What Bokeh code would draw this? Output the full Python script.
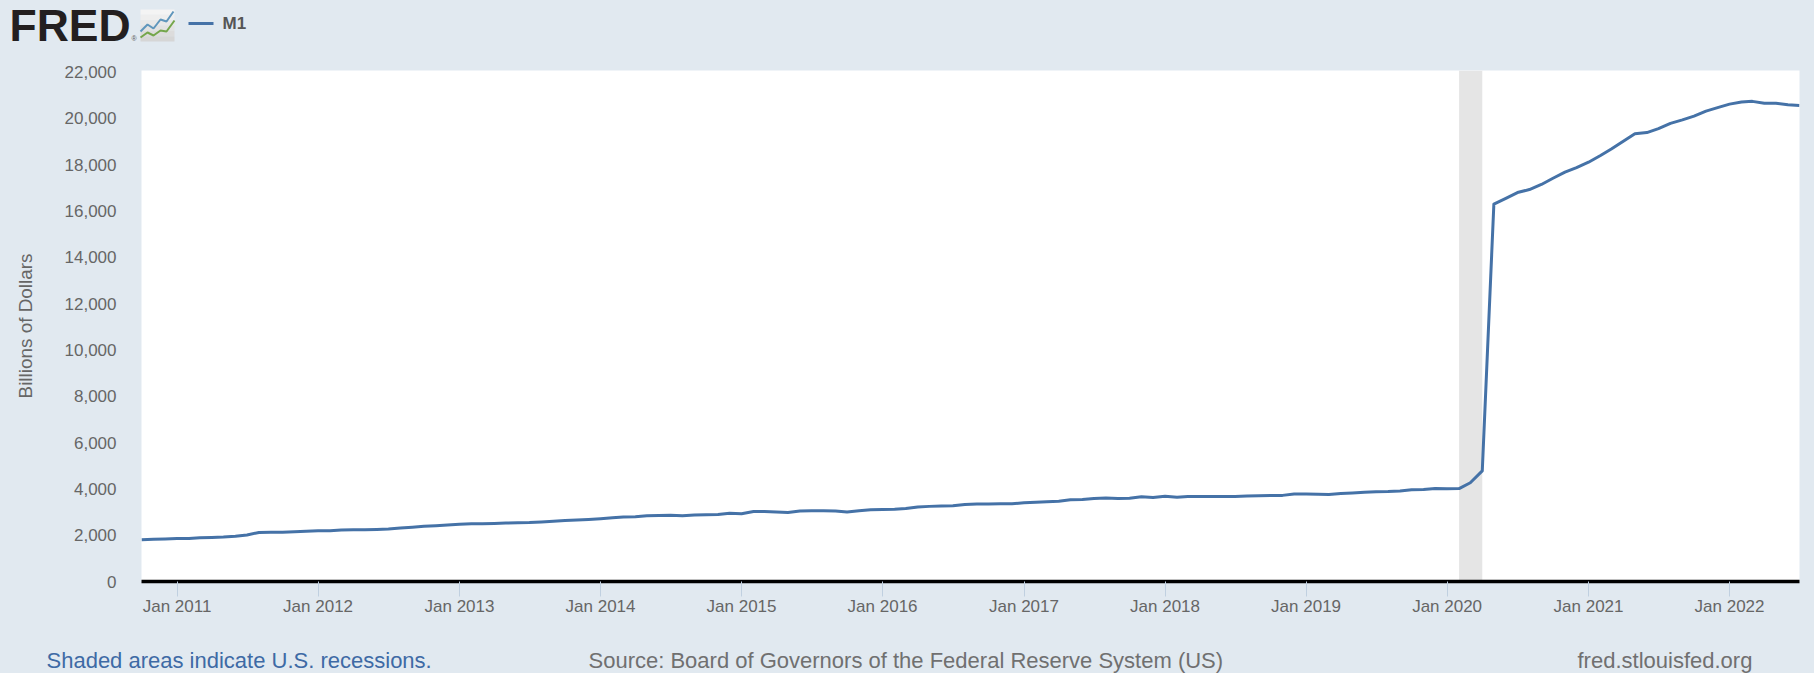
import pandas as pd
from bokeh.plotting import figure
from bokeh.layouts import column
from bokeh.models import (ColumnDataSource, FixedTicker, Label, LinearAxis,
                          NumeralTickFormatter, Range1d)
from bokeh.embed import file_html
from bokeh.resources import INLINE

m1_2010 = [1800, 1830, 1840]
m1_2011 = [1855, 1860, 1885, 1905, 1920, 1950, 2010, 2120, 2130, 2130, 2145, 2170]
m1_2012 = [2190, 2195, 2220, 2230, 2240, 2250, 2265, 2310, 2345, 2385, 2410, 2440]
m1_2013 = [2470, 2490, 2490, 2510, 2525, 2535, 2545, 2575, 2600, 2630, 2655, 2680]
m1_2014 = [2710, 2750, 2785, 2800, 2835, 2850, 2860, 2840, 2870, 2880, 2895, 2950]
m1_2015 = [2930, 3020, 3020, 3000, 2985, 3045, 3055, 3055, 3050, 3000, 3060, 3095]
m1_2016 = [3110, 3125, 3150, 3220, 3245, 3260, 3270, 3330, 3345, 3350, 3355, 3360]
m1_2017 = [3400, 3420, 3440, 3470, 3535, 3545, 3585, 3605, 3590, 3600, 3660, 3625]
m1_2018 = [3680, 3635, 3670, 3675, 3670, 3670, 3675, 3690, 3700, 3710, 3720, 3780]
m1_2019 = [3775, 3765, 3755, 3800, 3820, 3850, 3880, 3885, 3910, 3960, 3975, 4020]
m1_2020 = [4005, 4015, 4265, 4780, 16300, 16550, 16800, 16930, 17150, 17420, 17680, 17880]
m1_2021 = [18110, 18400, 18680, 19020, 19340, 19390, 19560, 19790, 19940, 20100, 20320, 20470]
m1_2022 = [20620, 20710, 20740, 20660, 20660, 20590, 20560]
m1 = (m1_2010 + m1_2011 + m1_2012 + m1_2013 + m1_2014 + m1_2015 + m1_2016
      + m1_2017 + m1_2018 + m1_2019 + m1_2020 + m1_2021 + m1_2022)
months = pd.date_range("2010-10-01", periods=len(m1), freq="MS")
x_tick_years = list(range(2011, 2023))
y_ticks = list(range(0, 22001, 2000))
recession_start = "2020-02-01"
recession_end = "2020-04-01"
series_name = "M1"
y_title = "Billions of Dollars"

BG = "#E1E9F0"
LINE = "#4572A7"
FONT = "Liberation Sans"
W = 1814
HEADER_H, MAIN_H, FOOTER_H = 58, 575, 40


def ms(d):
    return pd.Timestamp(d).value / 1e6


p = figure(width=W, height=MAIN_H, output_backend="svg", toolbar_location=None,
           x_range=Range1d(ms(months[0]), ms(months[-1])),
           y_range=Range1d(0, 22073),
           x_axis_type=None, y_axis_type=None, frame_align=False,
           min_border_left=141, min_border_right=15, min_border_top=12, min_border_bottom=52)
p.border_fill_color = BG
p.background_fill_color = "white"
p.outline_line_color = None
p.xgrid.visible = False

xa = LinearAxis(ticker=FixedTicker(ticks=[ms(f"{y}-01-01") for y in x_tick_years]))
xa.major_label_overrides = {ms(f"{y}-01-01"): f"Jan {y}" for y in x_tick_years}
xa.axis_line_color = "black"
xa.axis_line_width = 3.5
xa.major_tick_line_color = "#C0D0E0"
xa.major_tick_line_width = 1
xa.major_tick_in = 0
xa.major_tick_out = 15
xa.minor_tick_line_color = None
xa.major_label_text_font = FONT
xa.major_label_text_font_size = "17px"
xa.major_label_text_color = "#666666"
xa.major_label_standoff = 0
p.add_layout(xa, "below")

ya = LinearAxis(ticker=FixedTicker(ticks=y_ticks), formatter=NumeralTickFormatter(format="0,0"))
ya.axis_line_color = None
ya.major_tick_line_color = None
ya.minor_tick_line_color = None
ya.major_label_text_font = FONT
ya.major_label_text_font_size = "17px"
ya.major_label_text_color = "#666666"
ya.major_label_standoff = 19
ya.axis_label = y_title
ya.axis_label_text_font = FONT
ya.axis_label_text_font_size = "18.9px"
ya.axis_label_text_font_style = "normal"
ya.axis_label_text_color = "#666666"
ya.axis_label_standoff = 26
p.add_layout(ya, "left")

p.ygrid.ticker = FixedTicker(ticks=y_ticks[1:])
p.ygrid.grid_line_color = "#E6E6E6"
p.ygrid.grid_line_width = 1.5

p.quad(left=[ms(recession_start)], right=[ms(recession_end)], bottom=[0], top=[22073],
       fill_color="#E5E5E5", line_color=None)
src = ColumnDataSource(dict(x=[ms(d) for d in months], y=m1))
p.line("x", "y", source=src, line_color=LINE, line_width=3, line_join="round")


def strip(height, y_top):
    # A borderless band of page background whose data units are page pixels.
    f = figure(width=W, height=height, output_backend="svg", toolbar_location=None,
               x_range=Range1d(0, W), y_range=Range1d(y_top + height, y_top),
               x_axis_type=None, y_axis_type=None, frame_align=False,
               min_border_left=0, min_border_right=0, min_border_top=0, min_border_bottom=0)
    f.grid.visible = False
    f.outline_line_color = None
    f.background_fill_color = BG
    f.border_fill_color = BG
    return f


def text(f, tx, ty, s, size, color, style="normal", font=FONT):
    f.add_layout(Label(x=tx, y=ty, text=s, text_font=font, text_font_size=size, text_color=color,
                       text_font_style=style, text_baseline="middle", text_align="left"))


header = strip(HEADER_H, 0)
text(header, 9, 24.5, "FRED", "44.5px", "#231F20", style="bold")
text(header, 131, 38, "®", "7px", "#555555")

shades = ["#F4F4F4", "#EEEEEE", "#E8E8E8", "#E2E2E2", "#DCDCDC", "#D6D6D6"]
for i, c in enumerate(shades):
    header.quad(left=[140], right=[174], top=[9 + i * 32 / 6], bottom=[9 + (i + 1) * 32 / 6],
                fill_color=c, line_color=None)
header.line([140, 147, 153, 160, 166, 173], [31, 24, 28, 19, 21, 11], line_color="#5F96BC", line_width=2)
header.line([140, 147, 153, 160, 166, 174], [37, 32, 35, 30, 31, 20], line_color="#74A64B", line_width=2)

header.line([188, 213], [23, 23], line_color=LINE, line_width=3)
text(header, 222, 23, series_name, "17px", "#555555", style="bold")

footer = strip(FOOTER_H, HEADER_H + MAIN_H)
text(footer, 46, 660, "Shaded areas indicate U.S. recessions.", "22px", "#3E6AA5")
text(footer, 588, 660, "Source: Board of Governors of the Federal Reserve System (US)", "22px", "#707070")
text(footer, 1577, 660, "fred.stlouisfed.org", "22px", "#707070")

page = column(header, p, footer, spacing=0)
html = file_html(page, INLINE)
html = html.replace("<head>", f"<head><style>html,body{{background:{BG}}}</style>", 1)
open("out.html", "w").write(html)
